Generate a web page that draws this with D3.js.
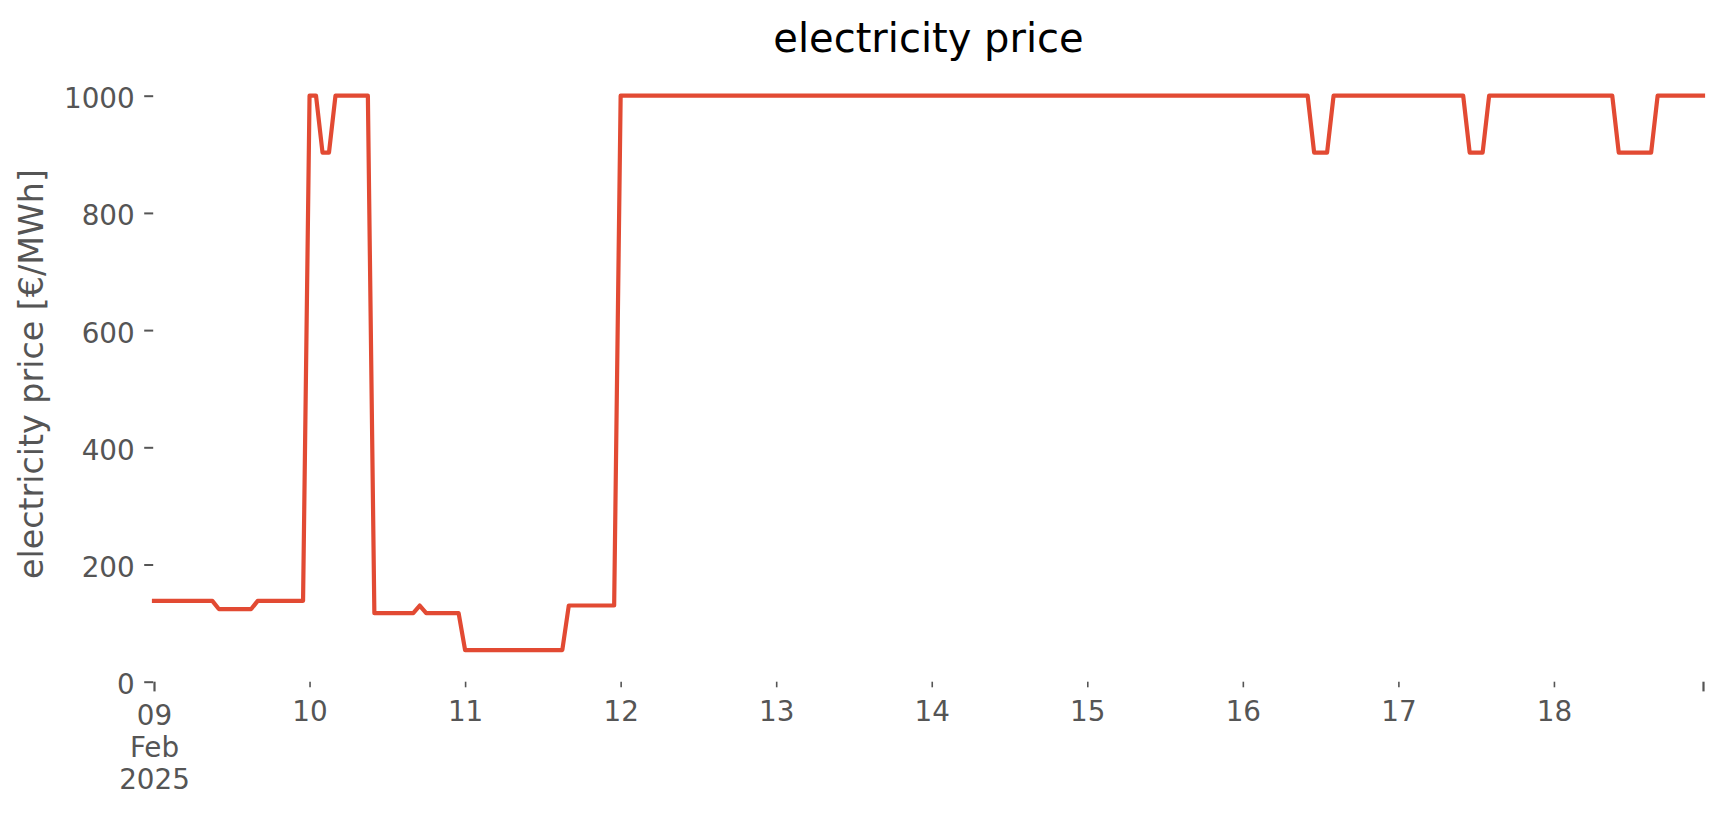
<!DOCTYPE html>
<html>
<head>
<meta charset="utf-8">
<script src="https://cdn.jsdelivr.net/npm/d3@7"></script>
<style>
  html, body { margin: 0; padding: 0; background: #ffffff; }
  svg { display: block; font-family: "DejaVu Sans", sans-serif; }
</style>
</head>
<body>
<svg id="chart" width="1724" height="815"></svg>
<script>
// ---- data (hourly electricity price, €/MWh) ----
const startTime = "2025-02-09T00:00:00Z";
const price_09 = [138,138,138,138,138,138,138,138,138,138,124,124,124,124,124,124,138,138,138,138,138,138,138,138];
const price_10 = [1000,1000,903,903,1000,1000,1000,1000,1000,1000,117,117,117,117,117,117,117,130,117,117,117,117,117,117];
const price_11 = [54,54,54,54,54,54,54,54,54,54,54,54,54,54,54,54,130,130,130,130,130,130,130,130];
const price_12 = [1000,1000,1000,1000,1000,1000,1000,1000,1000,1000,1000,1000,1000,1000,1000,1000,1000,1000,1000,1000,1000,1000,1000,1000];
const price_13 = [1000,1000,1000,1000,1000,1000,1000,1000,1000,1000,1000,1000,1000,1000,1000,1000,1000,1000,1000,1000,1000,1000,1000,1000];
const price_14 = [1000,1000,1000,1000,1000,1000,1000,1000,1000,1000,1000,1000,1000,1000,1000,1000,1000,1000,1000,1000,1000,1000,1000,1000];
const price_15 = [1000,1000,1000,1000,1000,1000,1000,1000,1000,1000,1000,1000,1000,1000,1000,1000,1000,1000,1000,1000,1000,1000,1000,1000];
const price_16 = [1000,1000,1000,1000,1000,1000,1000,1000,1000,1000,1000,903,903,903,1000,1000,1000,1000,1000,1000,1000,1000,1000,1000];
const price_17 = [1000,1000,1000,1000,1000,1000,1000,1000,1000,1000,1000,903,903,903,1000,1000,1000,1000,1000,1000,1000,1000,1000,1000];
const price_18 = [1000,1000,1000,1000,1000,1000,1000,1000,1000,1000,903,903,903,903,903,903,1000,1000,1000,1000,1000,1000,1000,1000];

const yTicks = [0, 200, 400, 600, 800, 1000];
const xTickLabels = ["09\nFeb\n2025", "10", "11", "12", "13", "14", "15", "16", "17", "18", ""];

const titleText = "electricity price";
const yLabelText = "electricity price [€/MWh]";

// ---- build series ----
const prices = [].concat(price_09, price_10, price_11, price_12, price_13,
                         price_14, price_15, price_16, price_17, price_18);
const t0 = new Date(startTime);
const series = prices.map((v, i) => ({ t: d3.utcHour.offset(t0, i), v }));
const tEnd = series[series.length - 1].t;

// ---- layout ----
const plotLeft = 154, plotRight = 1703, plotBottom = 681.7, plotTop = 66.4;
const svg = d3.select("#chart");
svg.append("rect").attr("width", 1724).attr("height", 815).attr("fill", "#ffffff");

const x = d3.scaleUtc().domain([t0, tEnd]).range([plotLeft, plotRight]);
const y = d3.scaleLinear().domain([0, 1050]).range([plotBottom, plotTop]);

const tickColor = "#555555";
const tickFont = 27.8;

// ---- y axis ----
const yAxis = d3.axisLeft(y).tickValues(yTicks).tickSize(9).tickPadding(9.5)
  .tickFormat(d3.format("d"));
const gy = svg.append("g").attr("transform", `translate(${plotLeft - 0.8},0)`).call(yAxis);
gy.select(".domain").remove();
gy.selectAll(".tick line").attr("stroke", tickColor).attr("stroke-width", 2);
gy.selectAll(".tick text").attr("fill", tickColor).attr("font-size", tickFont)
  .attr("font-family", "DejaVu Sans").attr("dy", "0.43em");

// ---- x axis ----
const dayTicks = d3.utcDay.range(t0, d3.utcDay.offset(t0, 10));
const xTickValues = dayTicks.concat([tEnd]);
const xAxis = d3.axisBottom(x).tickValues(xTickValues).tickSize(5.6).tickFormat("");
const gx = svg.append("g").attr("transform", `translate(0,${plotBottom})`).call(xAxis);
gx.select(".domain").remove();
gx.selectAll(".tick line").attr("stroke", tickColor)
  .attr("stroke-width", (d, i) => (i === 0 || i === xTickValues.length - 1) ? 2.2 : 1.6)
  .attr("y2", (d, i) => (i === 0 || i === xTickValues.length - 1) ? 9.7 : 5.6);
gx.selectAll(".tick text").remove();
gx.selectAll(".tick").each(function (d, i) {
  const lines = xTickLabels[i].split("\n").filter(s => s.length);
  if (!lines.length) return;
  const major = (i === 0);
  const base = major ? 43.3 : 39.0;
  const t = d3.select(this).append("text")
    .attr("fill", tickColor).attr("font-size", tickFont)
    .attr("font-family", "DejaVu Sans").attr("text-anchor", "middle");
  lines.forEach((s, k) => {
    t.append("tspan").attr("x", 0).attr("y", base + k * 32.2).text(s);
  });
});

// ---- line ----
const line = d3.line().x(d => x(d.t)).y(d => y(d.v));
svg.append("path").datum(series)
  .attr("d", line)
  .attr("fill", "none")
  .attr("stroke", "#E24A33")
  .attr("stroke-width", 4.2)
  .attr("stroke-linejoin", "round")
  .attr("stroke-linecap", "square");

// ---- title ----
svg.append("text").attr("x", (plotLeft + plotRight) / 2).attr("y", 51.7)
  .attr("text-anchor", "middle").attr("font-size", 40).attr("fill", "#000000")
  .text(titleText);

// ---- y label ----
svg.append("text")
  .attr("transform", `translate(43,${(plotTop + plotBottom) / 2}) rotate(-90)`)
  .attr("text-anchor", "middle").attr("font-size", 33.3).attr("fill", tickColor)
  .text(yLabelText);
</script>
</body>
</html>
